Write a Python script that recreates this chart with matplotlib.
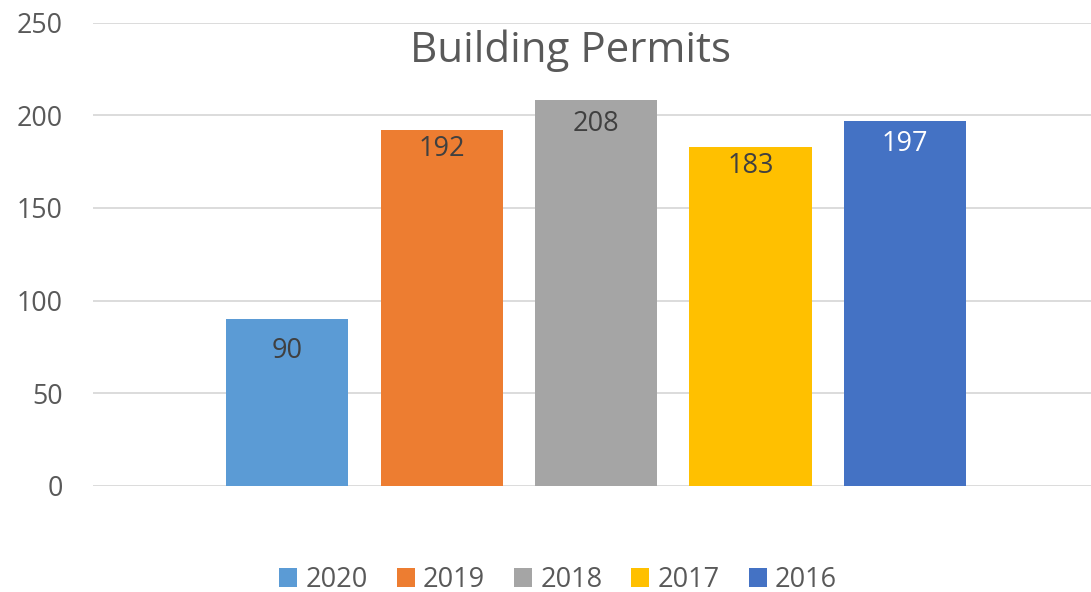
import matplotlib
matplotlib.use("Agg")
import matplotlib.pyplot as plt
from matplotlib.patches import Patch

years = ["2020", "2019", "2018", "2017", "2016"]
permits = [90, 192, 208, 183, 197]
colors = ["#5B9BD5", "#ED7D31", "#A5A5A5", "#FFC000", "#4472C4"]
label_colors = ["#404040", "#404040", "#404040", "#404040", "#FFFFFF"]
label_drop_pt = [22.7, 13.3, 16.9, 14.0, 16.9]  # label placement style, points below bar top
yticks = [0, 50, 100, 150, 200, 250]

plt.rcParams['font.family'] = ['Open Sans', 'DejaVu Sans']

fig = plt.figure(figsize=(10.91, 5.92), dpi=100)
ax = fig.add_axes([93/1091, 1-486/592, 1-93/1091, (486-22.5)/592])

xs = list(range(len(years)))
bars = ax.bar(xs, permits, width=0.79, color=colors, zorder=3)
for x, v, lc, dp in zip(xs, permits, label_colors, label_drop_pt):
    ax.annotate(str(v), (x, v), xytext=(0, -dp), textcoords="offset points",
                ha="center", va="center", fontsize=19.5, color=lc, zorder=4)

ax.set_xlim(-1.256, 5.204)
ax.set_ylim(0, 250)
ax.set_yticks(yticks)
ax.set_xticks([])
ax.grid(axis="y", color="#D9D9D9", linewidth=1.3, zorder=0)
for s in ax.spines.values():
    s.set_visible(False)
ax.tick_params(axis="y", length=0, pad=21.6, labelsize=19.3, labelcolor="#595959")

fig.text(570/1091, 1-51/592, "Building Permits", ha="center", va="center",
         fontsize=30.3, color="#595959")

handles = [Patch(facecolor=c, label=y) for c, y in zip(colors, years)]
fig.legend(handles=handles, loc="center", bbox_to_anchor=(558/1091, 1-580/592),
           ncol=5, frameon=False, fontsize=19.5, labelcolor="#595959",
           handlelength=0.67, handleheight=0.67, handletextpad=0.3, columnspacing=1.07,
           borderpad=0, borderaxespad=0)

fig.savefig("out.png", dpi=100)
